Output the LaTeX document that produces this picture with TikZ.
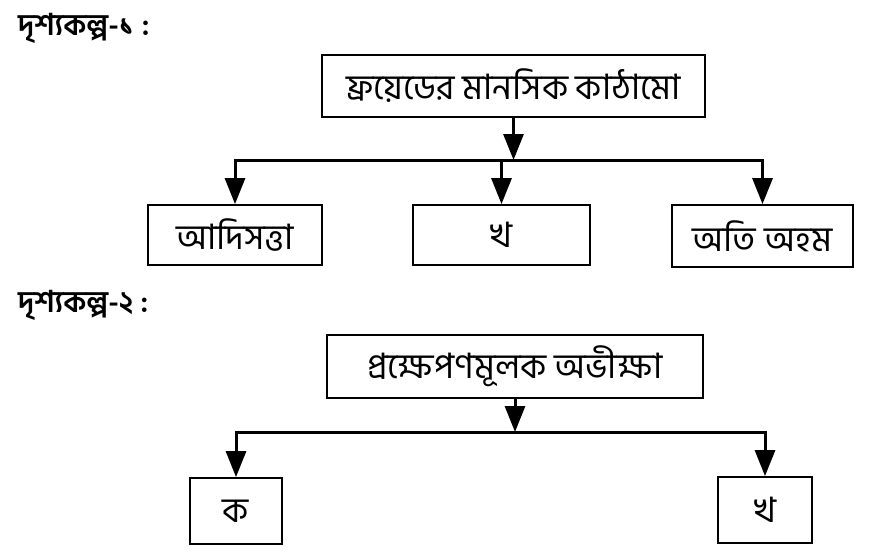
\documentclass[tikz,border=0pt]{standalone}
\usepackage{fontspec}
\newfontfamily\bnfont[Script=Bengali]{Hind Siliguri}
\usetikzlibrary{arrows.meta, positioning}

\begin{document}
\begin{tikzpicture}[
  x=1pt, y=-1pt,
  box/.style={rectangle, draw, line width=1.8pt, inner sep=0pt, align=center, font=\bnfont\fontsize{35}{40}\selectfont},
  heading/.style={anchor=west, inner sep=0pt, font=\bnfont\bfseries\fontsize{30}{34}\selectfont},
  arr/.style={-{Triangle[width=20pt,length=26pt]}, line width=3pt},
  >=Latex
]
\useasboundingbox (0,0) rectangle (888,558);

% scene 1
\node[heading] (h1) at (18,28) {দৃশ্যকল্প-১ :};
\node[box, minimum width=383pt, minimum height=62pt] (freud) at (513.5,86) {ফ্রয়েডের মানসিক কাঠামো};
\node[box, minimum width=174pt, minimum height=60pt] (id) at (235,235) {আদিসত্তা};
\node[box, minimum width=177pt, minimum height=60pt] (kha1) at (501.5,235) {খ};
\node[box, minimum width=181pt, minimum height=62pt] (super) at (762.5,236) {অতি অহম};
\coordinate (j1) at (513.5,160);

\draw[arr] (freud.south) -- (j1);
\draw[arr] (j1) -| (id.north);
\draw[arr] (j1) -| (super.north);
\draw[arr] (kha1.north |- j1) -- (kha1.north);

% scene 2
\node[heading] (h2) at (18,305) {দৃশ্যকল্প-২ :};
\node[box, minimum width=376pt, minimum height=63pt] (proj) at (515,366.5) {প্রক্ষেপণমূলক অভীক্ষা};
\node[box, minimum width=92pt, minimum height=66pt] (ka) at (236,511) {ক};
\node[box, minimum width=94pt, minimum height=66pt] (kha2) at (765,510) {খ};
\coordinate (j2) at (515,432);

\draw[arr] (proj.south) -- (j2);
\draw[arr] (j2) -| (ka.north);
\draw[arr] (j2) -| (kha2.north);
\end{tikzpicture}
\end{document}
